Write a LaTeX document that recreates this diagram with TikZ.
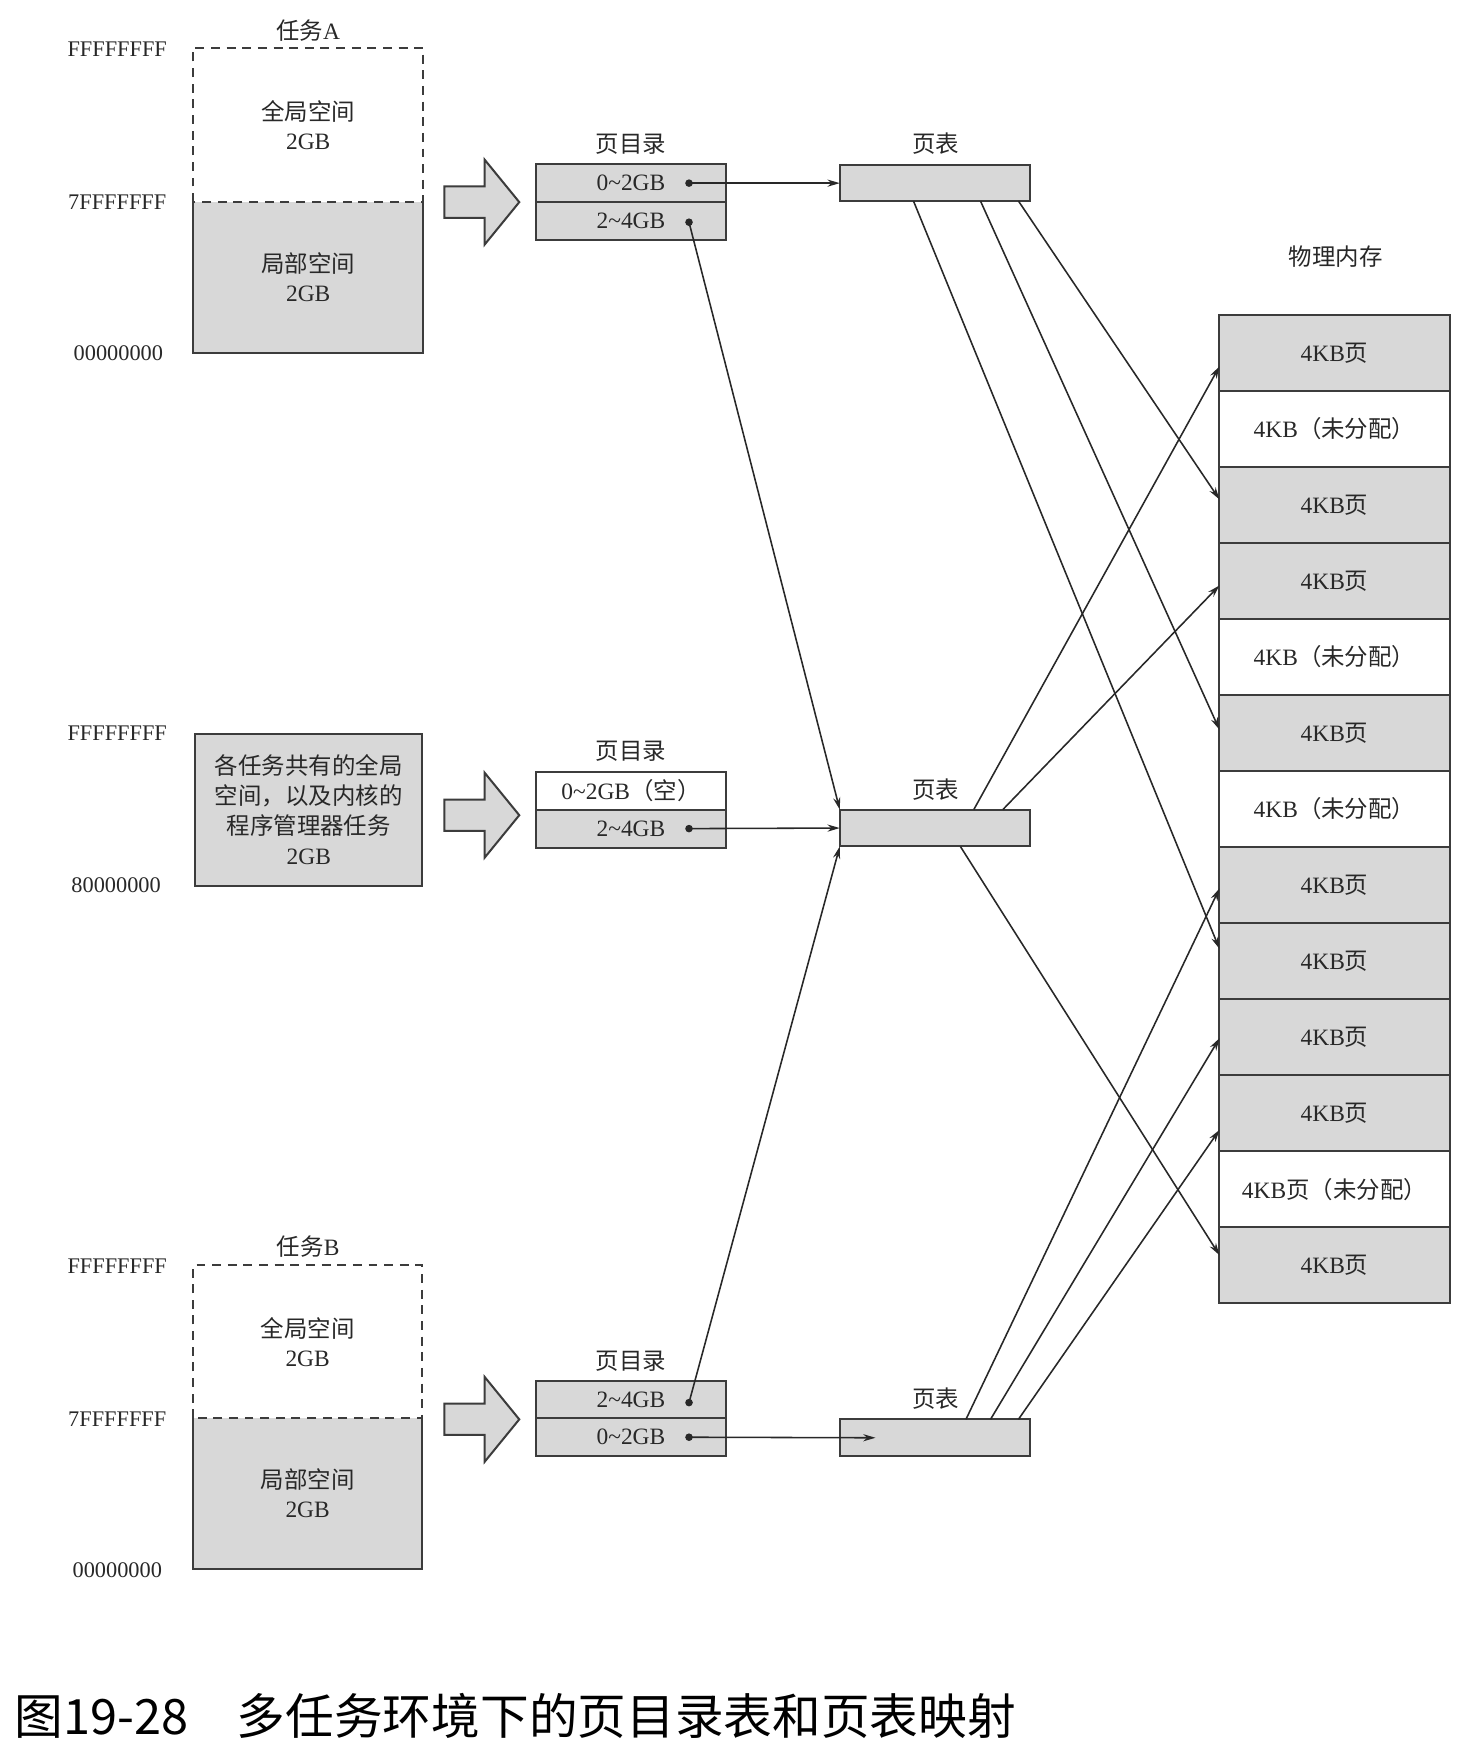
\documentclass[tikz,border=0pt]{standalone}
\usepackage{fontspec}
\setmainfont{Liberation Serif}
\newfontfamily\cjk{Noto Sans CJK SC}
\usetikzlibrary{arrows.meta,calc}
\definecolor{boxgray}{RGB}{216,216,216}
\definecolor{edge}{RGB}{60,60,60}
\definecolor{ink}{RGB}{40,40,40}
\newcommand{\zhtext}[1]{{\cjk #1}}
\newcommand{\tl}{\textasciitilde}
\begin{document}
\begin{tikzpicture}[x=0.5pt,y=-0.5pt,
  every node/.style={inner sep=0pt,outer sep=0pt,text=ink},
  txt/.style={font=\fontsize{10.5}{13}\selectfont},
  addr/.style={font=\fontsize{10}{12}\selectfont},
  cell/.style={draw=edge,line width=0.9pt,fill=boxgray,minimum width=85pt,minimum height=17pt,font=\fontsize{10.5}{12}\selectfont},
  memrow/.style={draw=edge,line width=0.9pt,minimum width=103pt,minimum height=34.04pt,font=\fontsize{10.5}{12}\selectfont},
  conn/.style={draw=ink,line width=0.7pt,-{Stealth[length=5.5pt,width=3.2pt]}},
  dashedge/.style={draw=edge,line width=0.9pt,dash pattern=on 4pt off 3pt},
  solidedge/.style={draw=edge,line width=0.9pt},
  bigarrow/.pic={\draw[fill=boxgray,draw=edge,line width=0.9pt] (0,-14) -- (36,-14) -- (36,-38) -- (67,0) -- (36,38) -- (36,14) -- (0,14) -- cycle;}
]
\useasboundingbox[fill=white] (0,0) rectangle (1324,1568);

% ---------------- Task A ----------------
\node[txt] (tA) at (276,27) {\zhtext{任务}A};
\node[minimum width=103pt,minimum height=69pt,align=center,txt] (Aglob) at (276,112) {\zhtext{全局空间}\\2GB};
\node[fill=boxgray,minimum width=103pt,minimum height=67.5pt,align=center,txt] (Aloc) at (276,248.5) {\zhtext{局部空间}\\2GB};
\draw[solidedge] (Aloc.north west) -- (Aloc.south west) -- (Aloc.south east) -- (Aloc.north east);
\draw[dashedge] (Aglob.south west) rectangle (Aglob.north east);
\node[addr] (aA1) at (105,44) {FFFFFFFF};
\node[addr] (aA2) at (105,181) {7FFFFFFF};
\node[addr] (aA3) at (106,316) {00000000};
\pic at (398,181) {bigarrow};

\node[txt] (ldA) at (565,129) {\zhtext{页目录}};
\node[cell] (dirA1) at (565,164) {0\tl2GB};
\node[cell] (dirA2) at (565,198) {2\tl4GB};
\node[txt] (lpA) at (838,129) {\zhtext{页表}};
\node[cell,minimum height=16pt] (ptA) at (837,164) {};

% ---------------- Middle ----------------
\node[addr] (aM1) at (105,657) {FFFFFFFF};
\node[addr] (aM2) at (104,793) {80000000};
\node[fill=boxgray,draw=edge,line width=0.9pt,minimum width=101.5pt,minimum height=68pt,align=center,font=\fontsize{10.5}{13.5}\selectfont] (gmid) at (276.5,725)
  {\zhtext{各任务共有的全局}\\\zhtext{空间，以及内核的}\\\zhtext{程序管理器任务}\\2GB};
\pic at (398,730) {bigarrow};
\node[txt] (ldM) at (565,673) {\zhtext{页目录}};
\node[cell,fill=white] (dirM1) at (565,708) {0\tl2GB\zhtext{（空）}};
\node[cell] (dirM2) at (565,742) {2\tl4GB};
\node[txt] (lpM) at (838,707) {\zhtext{页表}};
\node[cell,minimum height=16.5pt] (ptM) at (837,741.5) {};

% ---------------- Task B ----------------
\node[txt] (tB) at (276,1116) {\zhtext{任务}B};
\node[minimum width=102.5pt,minimum height=68.5pt,align=center,txt] (Bglob) at (275.5,1201.5) {\zhtext{全局空间}\\2GB};
\node[fill=boxgray,minimum width=102.5pt,minimum height=67.5pt,align=center,txt] (Bloc) at (275.5,1337.5) {\zhtext{局部空间}\\2GB};
\draw[solidedge] (Bloc.north west) -- (Bloc.south west) -- (Bloc.south east) -- (Bloc.north east);
\draw[dashedge] (Bglob.south west) rectangle (Bglob.north east);
\node[addr] (aB1) at (105,1134) {FFFFFFFF};
\node[addr] (aB2) at (105,1271) {7FFFFFFF};
\node[addr] (aB3) at (105,1406) {00000000};
\pic at (398,1271) {bigarrow};
\node[txt] (ldB) at (565,1219) {\zhtext{页目录}};
\node[cell] (dirB1) at (565,1253.5) {2\tl4GB};
\node[cell] (dirB2) at (565,1287) {0\tl2GB};
\node[txt] (lpB) at (838,1252) {\zhtext{页表}};
\node[cell,minimum height=16.5pt] (ptB) at (837,1287.5) {};

% ---------------- Physical memory ----------------
\node[txt] (lmem) at (1196,230) {\zhtext{物理内存}};
\foreach \i/\t/\f in {
  1/{4KB\zhtext{页}}/boxgray,
  2/{4KB\zhtext{（未分配）}}/white,
  3/{4KB\zhtext{页}}/boxgray,
  4/{4KB\zhtext{页}}/boxgray,
  5/{4KB\zhtext{（未分配）}}/white,
  6/{4KB\zhtext{页}}/boxgray,
  7/{4KB\zhtext{（未分配）}}/white,
  8/{4KB\zhtext{页}}/boxgray,
  9/{4KB\zhtext{页}}/boxgray,
  10/{4KB\zhtext{页}}/boxgray,
  11/{4KB\zhtext{页}}/boxgray,
  12/{4KB\zhtext{页（未分配）}}/white,
  13/{4KB\zhtext{页}}/boxgray}{
  \node[memrow,fill=\f] (m\i) at (1195,{282+68.077*(\i-0.5)}) {\t};
}

% ---------------- dots & connectors ----------------
\coordinate (dA1) at (617,164);
\coordinate (dA2) at (617,199);
\coordinate (dM) at (617,742);
\coordinate (dB1) at (617,1256);
\coordinate (dB2) at (617,1287);
\foreach \d in {dA1,dA2,dM,dB1,dB2} \fill[ink] (\d) circle (1.7pt);

\draw[conn] (dA1) -- (ptA.west);
\draw[conn] (dA2) -- (ptM.north west);
\draw[conn] (dM) -- (ptM.west);
\draw[conn] (dB1) -- (ptM.south west);
\draw[conn] (dB2) -- ($(ptB.west)+(32,0)$);

% page table A -> memory
\draw[conn] ($(ptA.south west)+(160,0)$) -- ($(m3.west)+(0,-5)$);
\draw[conn] ($(ptA.south west)+(126,0)$) -- ($(m6.west)+(0,-3)$);
\draw[conn] ($(ptA.south west)+(66,0)$) -- ($(m9.west)+(0,-11)$);
% page table M -> memory
\draw[conn] ($(ptM.north west)+(120,0)$) -- ($(m1.west)+(0,12)$);
\draw[conn] ($(ptM.north west)+(146,0)$) -- ($(m4.west)+(0,4)$);
\draw[conn] ($(ptM.south west)+(108,0)$) -- ($(m13.west)+(0,-9)$);
% page table B -> memory
\draw[conn] ($(ptB.north west)+(113,0)$) -- ($(m8.west)+(0,3)$);
\draw[conn] ($(ptB.north west)+(135,0)$) -- ($(m10.west)+(0,1)$);
\draw[conn] ($(ptB.north west)+(160,0)$) -- ($(m11.west)+(0,15)$);

% ---------------- caption ----------------
\node[anchor=west,text=black,font=\cjk\fontsize{21.8}{24}\selectfont] (cap) at (13,1537) {图19-28　多任务环境下的页目录表和页表映射};
\end{tikzpicture}
\end{document}
